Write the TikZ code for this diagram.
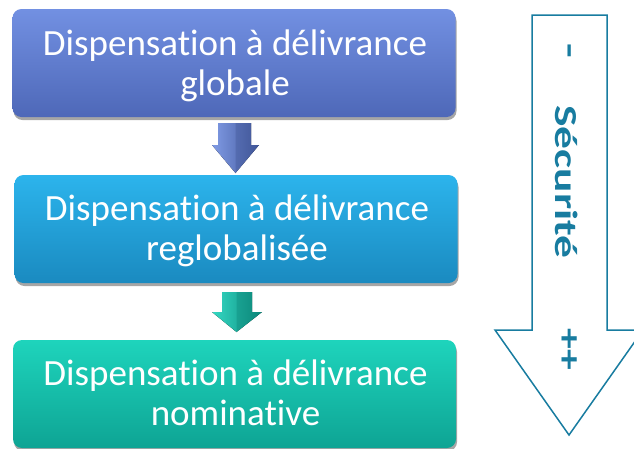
\documentclass[tikz,border=0pt]{standalone}
\usepackage{fontspec}
\setmainfont{Carlito}[Ligatures=NoCommon]
\usetikzlibrary{shadows}
\definecolor{bAtop}{RGB}{114,144,226}
\definecolor{bAbot}{RGB}{78,104,184}
\definecolor{bBtop}{RGB}{44,180,236}
\definecolor{bBbot}{RGB}{26,138,192}
\definecolor{bCtop}{RGB}{30,212,188}
\definecolor{bCbot}{RGB}{14,164,148}
\definecolor{secu}{RGB}{24,124,160}
\newcommand{\twoline}[2]{\parbox[b]{440pt}{\centering\fontsize{37}{40}\selectfont\lineskiplimit=-100pt\relax #1\\#2}}
\begin{document}
\begin{tikzpicture}[x=1pt,y=-1pt,
  boxshape/.style={rounded corners=9pt, minimum width=443pt, minimum height=108pt, inner sep=0pt,
    drop shadow={shadow xshift=1pt, shadow yshift=-3pt, opacity=0.35, fill=black}},
  boxtext/.style={text=white, inner sep=0pt, anchor=base},
  vtext/.style={rotate=-90, text=secu, inner sep=0pt, font=\fontsize{32}{38}\selectfont\bfseries}]
\useasboundingbox (0,0) rectangle (634,448);
\clip (0,0) rectangle (634,448);
% boxes
\node[boxshape, top color=bAtop, bottom color=bAbot] (boxA) at (234,63) {};
\node[boxshape, top color=bBtop, bottom color=bBbot] (boxB) at (236,229) {};
\node[boxshape, top color=bCtop, bottom color=bCbot] (boxC) at (234.5,394) {};
\node[boxtext] (txtA) at (235,95) {\twoline{Dispensation à délivrance}{globale}};
\node[boxtext] (txtB) at (237,260) {\twoline{Dispensation à délivrance}{reglobalisée}};
\node[boxtext] (txtC) at (235.5,425) {\twoline{Dispensation à délivrance}{nominative}};
% small block arrows
\fill[left color=bAtop!90!white, right color=bAbot!85!black]
  (218,123) -- (251,123) -- (251,145) -- (259,145) -- (235.5,173) -- (212,145) -- (218,145) -- cycle;
\fill[bAbot!80!black, opacity=0.35] (235.5,123) -- (251,123) -- (251,145) -- (259,145) -- (235.5,173) -- cycle;
\fill[left color=bCtop!90!white, right color=bCbot!85!black]
  (222,292) -- (252,292) -- (252,312) -- (262,312) -- (236.5,332) -- (212,312) -- (222,312) -- cycle;
\fill[bCbot!80!black, opacity=0.35] (236.5,292) -- (252,292) -- (252,312) -- (262,312) -- (236.5,332) -- cycle;
% big arrow
\coordinate (bigtip) at (569,435);
\draw[secu, line width=1.5pt, fill=white] (532,15) -- (607,15) -- (607,330) -- (643,330) -- (bigtip) -- (495,330) -- (532,330) -- cycle;
\node[vtext] (minus) at (566,51) {\scalebox{1.5}[1]{-}};
\node[vtext] (secut) at (567,182) {\scalebox{1.42}[1]{Sécurité}};
\node[vtext] (plus) at (568,349) {\scalebox{1.3}[1]{++}};
\end{tikzpicture}
\end{document}
